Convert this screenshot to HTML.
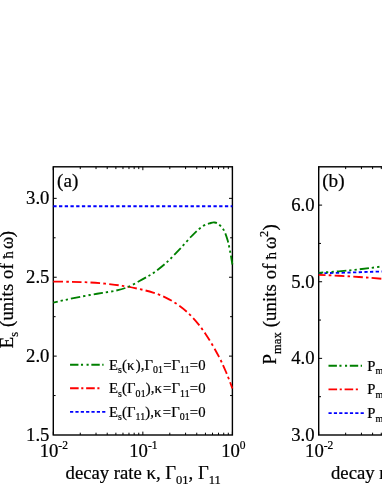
<!DOCTYPE html><html><head><meta charset="utf-8"><style>html,body{margin:0;padding:0;background:#fff;overflow:hidden}svg{display:block;will-change:transform}text{font-family:"Liberation Serif",serif;fill:#000;stroke:#000;stroke-width:0.22px}</style></head><body>
<svg width="382" height="494" viewBox="0 0 382 494">
<rect width="382" height="494" fill="#fff"/>
<path d="M53.3 356.12h3.4M232.4 356.12h-3.4M53.3 277.24h3.4M232.4 277.24h-3.4M53.3 198.35h3.4M232.4 198.35h-3.4M53.3 395.56h2.3M232.4 395.56h-2.3M53.3 316.68h2.3M232.4 316.68h-2.3M53.3 237.79h2.3M232.4 237.79h-2.3M53.30 435.0v-3.4M53.30 166.8v3.4M80.26 435.0v-2.3M80.26 166.8v2.3M96.03 435.0v-2.3M96.03 166.8v2.3M107.21 435.0v-2.3M107.21 166.8v2.3M115.89 435.0v-2.3M115.89 166.8v2.3M122.98 435.0v-2.3M122.98 166.8v2.3M128.98 435.0v-2.3M128.98 166.8v2.3M134.17 435.0v-2.3M134.17 166.8v2.3M138.75 435.0v-2.3M138.75 166.8v2.3M142.85 435.0v-3.4M142.85 166.8v3.4M169.81 435.0v-2.3M169.81 166.8v2.3M185.58 435.0v-2.3M185.58 166.8v2.3M196.76 435.0v-2.3M196.76 166.8v2.3M205.44 435.0v-2.3M205.44 166.8v2.3M212.53 435.0v-2.3M212.53 166.8v2.3M218.53 435.0v-2.3M218.53 166.8v2.3M223.72 435.0v-2.3M223.72 166.8v2.3M228.30 435.0v-2.3M228.30 166.8v2.3M232.40 435.0v-3.4M232.40 166.8v3.4" stroke="#000" stroke-width="1.0" fill="none"/>
<rect x="53.3" y="166.8" width="179.10000000000002" height="268.2" fill="none" stroke="#000" stroke-width="1.4"/>
<path d="M53.3 206.24H232.4" stroke="#0000ff" stroke-width="1.85" stroke-dasharray="3.3 2.42" fill="none"/>
<path d="M53.30 281.60C56.08 281.63 64.72 281.70 70.00 281.80C75.28 281.90 80.00 281.97 85.00 282.20C90.00 282.43 95.00 282.77 100.00 283.20C105.00 283.63 110.47 284.23 115.00 284.80C119.53 285.37 123.03 285.87 127.20 286.60C131.37 287.33 135.68 288.20 140.00 289.20C144.32 290.20 148.73 291.17 153.10 292.60C157.47 294.03 161.83 295.62 166.20 297.80C170.57 299.98 174.93 302.47 179.30 305.70C183.67 308.93 188.05 312.53 192.40 317.20C196.75 321.87 201.05 327.25 205.40 333.70C209.75 340.15 215.00 349.37 218.50 355.90C222.00 362.43 224.08 367.47 226.40 372.90C228.72 378.33 231.40 385.90 232.40 388.50" stroke="#ff0000" stroke-width="1.85" stroke-dasharray="9.6 3.2 2.6 3.2" fill="none"/>
<path d="M53.30 302.70C55.08 302.28 60.18 301.05 64.00 300.20C67.82 299.35 71.87 298.47 76.20 297.60C80.53 296.73 85.63 295.78 90.00 295.00C94.37 294.22 98.17 293.62 102.40 292.90C106.63 292.18 111.27 291.63 115.40 290.70C119.53 289.77 123.27 288.87 127.20 287.30C131.13 285.73 135.37 283.23 139.00 281.30C142.63 279.37 146.65 277.03 149.00 275.70C151.35 274.37 150.23 275.45 153.10 273.30C155.97 271.15 161.83 266.73 166.20 262.80C170.57 258.87 174.93 254.28 179.30 249.70C183.67 245.12 188.48 239.22 192.40 235.30C196.32 231.38 199.75 228.25 202.80 226.20C205.85 224.15 208.73 223.62 210.70 223.00C212.67 222.38 213.30 222.32 214.60 222.50C215.90 222.68 216.97 222.83 218.50 224.10C220.03 225.37 222.27 227.35 223.80 230.10C225.33 232.85 226.62 236.88 227.70 240.60C228.78 244.32 229.52 248.42 230.30 252.40C231.08 256.38 232.05 262.48 232.40 264.50" stroke="#008000" stroke-width="1.85" stroke-dasharray="9.4 2.9 2.3 3.1 2.3 3.0" stroke-dashoffset="4.8" fill="none"/>
<path d="M70.05 364.7h33.5" stroke="#008000" stroke-width="1.85" stroke-dasharray="8.4 2.5 2.1 3.5 2.1 2.7" fill="none"/><path d="M70.05 388.2h31.6" stroke="#ff0000" stroke-width="1.85" stroke-dasharray="8.6 2.6 2.1 2.8" fill="none"/><path d="M70.05 411.8h35.3" stroke="#0000ff" stroke-width="1.85" stroke-dasharray="3.2 2.15" fill="none"/>
<text x="109" y="369.6" font-size="14.7" letter-spacing="0.1">E<tspan font-size="9.85" dy="3.6">s</tspan><tspan dy="-3.6" font-size="14.7">&#8203;</tspan>(κ<tspan dx="1.2">)</tspan>,Γ<tspan font-size="9.85" dy="3.6">01</tspan><tspan dy="-3.6" font-size="14.7">&#8203;</tspan>=Γ<tspan font-size="9.85" dy="3.6">11</tspan><tspan dy="-3.6" font-size="14.7">&#8203;</tspan>=0</text>
<text x="109" y="393.0" font-size="14.7" letter-spacing="0.1">E<tspan font-size="9.85" dy="3.6">s</tspan><tspan dy="-3.6" font-size="14.7">&#8203;</tspan>(Γ<tspan font-size="9.85" dy="3.6">01</tspan><tspan dy="-3.6" font-size="14.7">&#8203;</tspan>),κ<tspan dx="1.2">=</tspan>Γ<tspan font-size="9.85" dy="3.6">11</tspan><tspan dy="-3.6" font-size="14.7">&#8203;</tspan>=0</text>
<text x="109" y="416.5" font-size="14.7" letter-spacing="0.1">E<tspan font-size="9.85" dy="3.6">s</tspan><tspan dy="-3.6" font-size="14.7">&#8203;</tspan>(Γ<tspan font-size="9.85" dy="3.6">11</tspan><tspan dy="-3.6" font-size="14.7">&#8203;</tspan>),κ<tspan dx="1.2">=</tspan>Γ<tspan font-size="9.85" dy="3.6">01</tspan><tspan dy="-3.6" font-size="14.7">&#8203;</tspan>=0</text>
<text x="49.4" y="440.90" font-size="18.7" text-anchor="end">1.5</text>
<text x="49.4" y="362.02" font-size="18.7" text-anchor="end">2.0</text>
<text x="49.4" y="283.14" font-size="18.7" text-anchor="end">2.5</text>
<text x="49.4" y="204.25" font-size="18.7" text-anchor="end">3.0</text>
<text x="53.80" y="456.6" font-size="18.7" text-anchor="middle">10<tspan font-size="11.5" dy="-7.9">-2</tspan></text>
<text x="143.35" y="456.6" font-size="18.7" text-anchor="middle">10<tspan font-size="11.5" dy="-7.9">-1</tspan></text>
<text x="233.40" y="456.6" font-size="18.7" text-anchor="middle">10<tspan font-size="11.5" dy="-7.9">0</tspan></text>
<text x="57" y="187.0" font-size="19.2">(a)</text>
<text x="143.2" y="479" font-size="18.7" text-anchor="middle">decay rate κ, Γ<tspan font-size="12.5" dy="5.2">01</tspan><tspan dy="-5.2" font-size="18.7">&#8203;</tspan>, Γ<tspan font-size="12.5" dy="5.2">11</tspan><tspan dy="-5.2" font-size="18.7">&#8203;</tspan></text>
<g transform="translate(12.6 348.3) rotate(-90)" font-size="18.7"><text x="0" y="0" letter-spacing="0.12">E<tspan font-size="12.5" dy="5.2">s</tspan><tspan dy="-5.2" font-size="18.7">&#8203;</tspan> (units of</text><text x="89.5" y="0" font-size="15">ħ</text><text x="99.3" y="0">ω</text><text x="111.0" y="0">)</text></g>
<path d="M318.7 358.37h3.4M497.8 358.37h-3.4M318.7 281.74h3.4M497.8 281.74h-3.4M318.7 205.11h3.4M497.8 205.11h-3.4M318.7 396.69h2.3M497.8 396.69h-2.3M318.7 320.06h2.3M497.8 320.06h-2.3M318.7 243.43h2.3M497.8 243.43h-2.3M318.70 435.0v-3.4M318.70 166.8v3.4M345.66 435.0v-2.3M345.66 166.8v2.3M361.43 435.0v-2.3M361.43 166.8v2.3M372.61 435.0v-2.3M372.61 166.8v2.3M381.29 435.0v-2.3M381.29 166.8v2.3M388.38 435.0v-2.3M388.38 166.8v2.3M394.38 435.0v-2.3M394.38 166.8v2.3M399.57 435.0v-2.3M399.57 166.8v2.3M404.15 435.0v-2.3M404.15 166.8v2.3M408.25 435.0v-3.4M408.25 166.8v3.4M435.21 435.0v-2.3M435.21 166.8v2.3M450.98 435.0v-2.3M450.98 166.8v2.3M462.16 435.0v-2.3M462.16 166.8v2.3M470.84 435.0v-2.3M470.84 166.8v2.3M477.93 435.0v-2.3M477.93 166.8v2.3M483.93 435.0v-2.3M483.93 166.8v2.3M489.12 435.0v-2.3M489.12 166.8v2.3M493.70 435.0v-2.3M493.70 166.8v2.3M497.80 435.0v-3.4M497.80 166.8v3.4" stroke="#000" stroke-width="1.0" fill="none"/>
<rect x="318.7" y="166.8" width="179.10000000000002" height="268.2" fill="none" stroke="#000" stroke-width="1.4"/>
<path d="M318.70 273.30C323.92 273.17 339.45 272.80 350.00 272.50C360.55 272.20 370.33 271.83 382.00 271.50C393.67 271.17 413.67 270.67 420.00 270.50" stroke="#0000ff" stroke-width="1.85" stroke-dasharray="3.3 2.42" fill="none"/>
<path d="M318.70 274.80C323.92 275.07 339.45 275.73 350.00 276.40C360.55 277.07 370.33 277.70 382.00 278.80C393.67 279.90 413.67 282.30 420.00 283.00" stroke="#ff0000" stroke-width="1.85" stroke-dasharray="9.6 3.2 2.6 3.2" stroke-dashoffset="2.6" fill="none"/>
<path d="M318.70 272.80C323.92 272.38 339.45 271.37 350.00 270.30C360.55 269.23 370.33 268.12 382.00 266.40C393.67 264.68 413.67 261.07 420.00 260.00" stroke="#008000" stroke-width="1.85" stroke-dasharray="9.4 2.9 2.3 3.1 2.3 3.0" stroke-dashoffset="4.8" fill="none"/>
<path d="M328.5 365.7h33.5" stroke="#008000" stroke-width="1.85" stroke-dasharray="8.4 2.5 2.1 3.5 2.1 2.7" fill="none"/><path d="M328.5 389.4h31.6" stroke="#ff0000" stroke-width="1.85" stroke-dasharray="8.6 2.6 2.1 2.8" fill="none"/><path d="M328.5 413.1h35.3" stroke="#0000ff" stroke-width="1.85" stroke-dasharray="3.2 2.15" fill="none"/>
<text x="367.3" y="370.5" font-size="14.7">P<tspan font-size="9.85" dy="3.6">max</tspan><tspan dy="-3.6" font-size="14.7">&#8203;</tspan></text>
<text x="367.3" y="394.2" font-size="14.7">P<tspan font-size="9.85" dy="3.6">max</tspan><tspan dy="-3.6" font-size="14.7">&#8203;</tspan></text>
<text x="367.3" y="417.9" font-size="14.7">P<tspan font-size="9.85" dy="3.6">max</tspan><tspan dy="-3.6" font-size="14.7">&#8203;</tspan></text>
<text x="314.6" y="440.90" font-size="18.7" text-anchor="end">3.0</text>
<text x="314.6" y="364.27" font-size="18.7" text-anchor="end">4.0</text>
<text x="314.6" y="287.64" font-size="18.7" text-anchor="end">5.0</text>
<text x="314.6" y="211.01" font-size="18.7" text-anchor="end">6.0</text>
<text x="319.20" y="456.6" font-size="18.7" text-anchor="middle">10<tspan font-size="11.5" dy="-7.9">-2</tspan></text>
<text x="322.2" y="187.2" font-size="19.2">(b)</text>
<text x="331" y="479" font-size="18.7">decay rate</text>
<g transform="translate(275.9 364.5) rotate(-90)" font-size="18.7"><text x="0" y="0" letter-spacing="0.12">P<tspan font-size="12.5" dy="5.2">max</tspan><tspan dy="-5.2" font-size="18.7">&#8203;</tspan> (units of</text><text x="105.0" y="0" font-size="15">ħ</text><text x="115.4" y="0">ω</text><text x="127.6" y="-7.6" font-size="12.3">2</text><text x="133.9" y="0">)</text></g>
</svg></body></html>
